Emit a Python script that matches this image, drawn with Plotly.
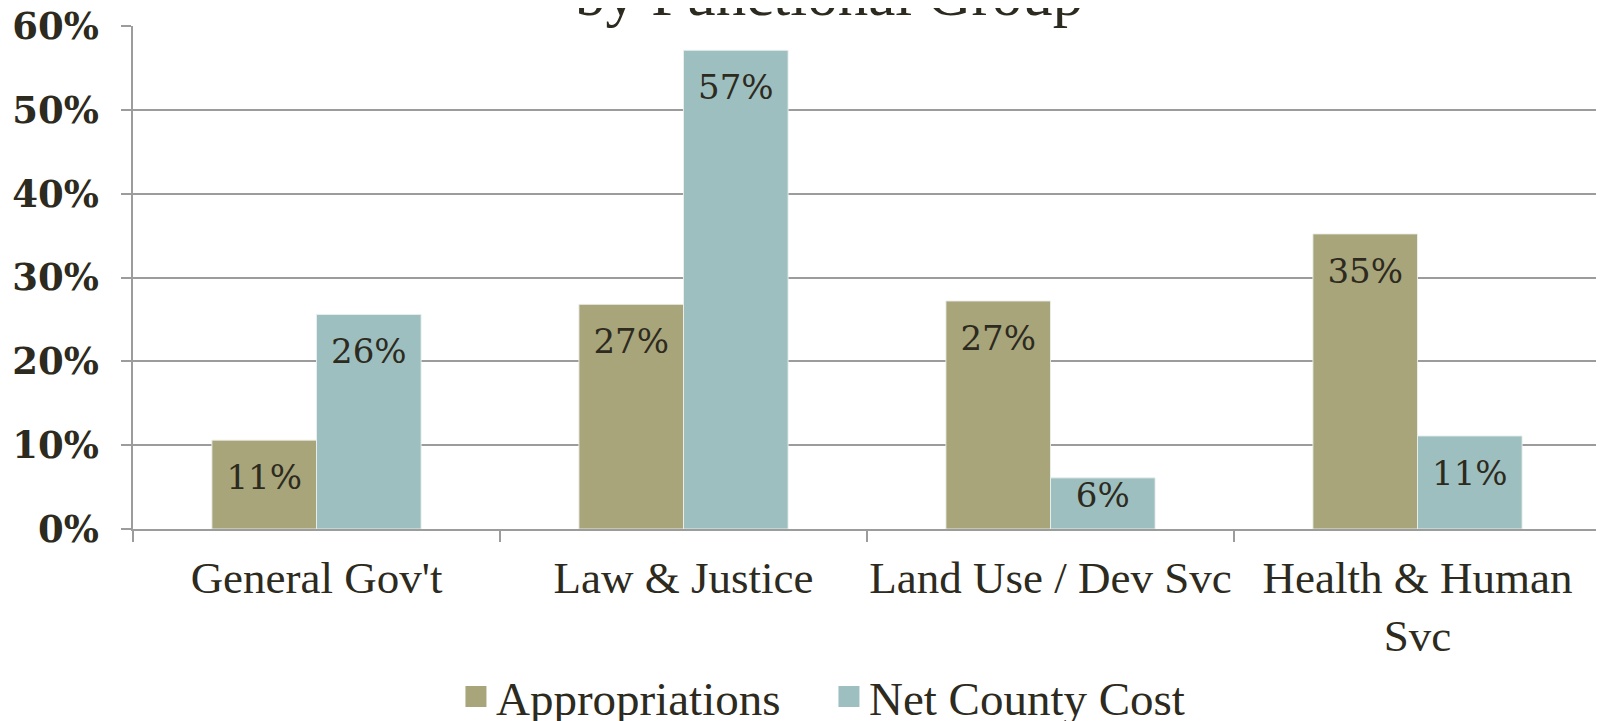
import plotly.graph_objects as go

categories = ["General Gov't", "Law & Justice", "Land Use / Dev Svc", "Health & Human<br>Svc"]
appropriations = [0.106, 0.268, 0.272, 0.352]
net_county_cost = [0.256, 0.571, 0.061, 0.111]
series_names = ["Appropriations", "Net County Cost"]
y_tick_vals = [0, 0.1, 0.2, 0.3, 0.4, 0.5, 0.6]
y_tick_text = ["0%", "10%", "20%", "30%", "40%", "50%", "60%"]
title_text = "by Functional Group"

col_app = "#A8A57B"
col_net = "#9EBFBF"
txt_col = "#2D2A20"
grid_col = "#9C9C9C"

# label offsets (invisible marker sizes controlling how far below the bar top each label sits)
label_pad_app = [36, 36, 36, 36]
label_pad_net = [36, 36, 4, 36]

fig = go.Figure()
for i, (name, vals, col, pad) in enumerate([(series_names[0], appropriations, col_app, label_pad_app),
                                            (series_names[1], net_county_cost, col_net, label_pad_net)]):
    grp = "g%d" % i
    fig.add_trace(go.Bar(
        x=categories, y=vals, name=name, showlegend=False, offsetgroup=grp,
        marker=dict(color=col, line=dict(color="rgba(235,240,236,0.9)", width=1)),
        hoverinfo="skip",
    ))
    # data labels
    fig.add_trace(go.Scatter(
        x=categories, y=vals, mode="text+markers", offsetgroup=grp, showlegend=False,
        marker=dict(size=pad, opacity=0, color=col),
        texttemplate="%{y:.0%}", textposition="bottom center",
        textfont=dict(family="DejaVu Serif", size=34, color=txt_col),
        hoverinfo="skip", cliponaxis=False,
    ))
    # legend proxies
    fig.add_trace(go.Scatter(
        x=[None], y=[None], mode="markers", name=name,
        marker=dict(symbol="square", size=16, color=col, line=dict(color=col, width=5)),
    ))

fig.update_layout(
    width=1604, height=721,
    margin=dict(l=125, r=11, t=18, b=200, autoexpand=False),
    paper_bgcolor="white", plot_bgcolor="white",
    barmode="group", bargap=0.43, bargroupgap=0,
    scattermode="group", scattergap=0.43,
    showlegend=True,
    legend=dict(orientation="h", x=0.22, xanchor="left", y=-0.334, yanchor="middle",
                font=dict(family="Liberation Serif", size=47, color=txt_col),
                entrywidth=328, entrywidthmode="pixels", itemsizing="trace",
                bgcolor="rgba(0,0,0,0)"),
    xaxis=dict(
        showline=True, linecolor=grid_col, linewidth=1.5,
        ticks="outside", tickson="boundaries", ticklen=11, tickcolor=grid_col, tickwidth=1.5,
        tickfont=dict(family="Liberation Serif", size=45, color=txt_col), tickangle=0,
        showgrid=False, automargin=False, ticklabelstandoff=8, ticklabeloverflow="allow",
    ),
    yaxis=dict(
        range=[0, 0.6], tickvals=y_tick_vals, ticktext=y_tick_text,
        showline=True, linecolor=grid_col, linewidth=1.5,
        ticks="outside", ticklen=10, tickcolor=grid_col, tickwidth=1.5,
        showgrid=True, gridcolor=grid_col, gridwidth=1.5, zeroline=False,
        tickfont=dict(family="DejaVu Serif", size=37, color=txt_col, weight="bold"),
        automargin=False, ticklabelstandoff=15, ticklabeloverflow="allow",
    ),
    annotations=[dict(
        text=title_text, xref="paper", yref="paper", x=0.474, y=1.063,
        xanchor="center", yanchor="middle", showarrow=False,
        font=dict(family="Liberation Serif", size=61, color=txt_col),
    )],
)

fig.write_html("out.html")
